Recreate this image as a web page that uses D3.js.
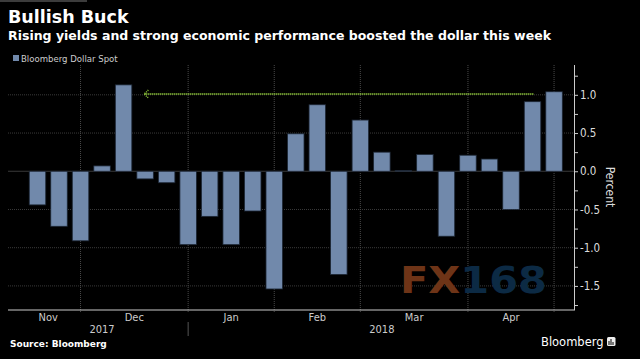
<!DOCTYPE html>
<meta charset="utf-8">
<html>
<head>
<script src="https://d3js.org/d3.v7.min.js"></script>
<style>
  body { margin: 0; background: #000; }
  text { font-family: "DejaVu Sans Condensed", "Liberation Sans Narrow", "DejaVu Sans", sans-serif; }
</style>
</head>
<body>
<div id="chart"></div>
<script>
// weekly Bloomberg Dollar Spot change, percent
const weeks = ["2017-11-17","2017-11-24","2017-12-01","2017-12-08","2017-12-15","2017-12-22","2017-12-29",
  "2018-01-05","2018-01-12","2018-01-19","2018-01-26","2018-02-02","2018-02-09","2018-02-16","2018-02-23",
  "2018-03-02","2018-03-09","2018-03-16","2018-03-23","2018-03-30","2018-04-06","2018-04-13","2018-04-20",
  "2018-04-27","2018-05-04"];
const change = [-0.44, -0.72, -0.91, 0.07, 1.13, -0.10, -0.15, -0.96, -0.59, -0.96, -0.52, -1.54, 0.49,
  0.87, -1.35, 0.67, 0.25, 0.01, 0.22, -0.85, 0.21, 0.16, -0.50, 0.91, 1.04];
const monthLabels = ["Nov", "Dec", "Jan", "Feb", "Mar", "Apr"];
const yearLabels = ["2017", "2018"];
const yTicks = [-1.5, -1.0, -0.5, 0.0, 0.5, 1.0];
const arrowLevel = 1.01;

const W = 640, H = 359;
const barColor = "#7189ab";

const svg = d3.select("#chart").append("svg")
    .attr("width", W).attr("height", H)
    .style("background", "#000");

// x is week index, y is percent
const x = d3.scaleLinear().domain([-1.37, 24.95]).range([8, 574.5]);
const y = d3.scaleLinear().domain([-1.815, 1.39]).range([310, 65]);
const bw = 16.5;

// month starts (first week of each month) and year start
const parse = d3.timeParse("%Y-%m-%d");
const dates = weeks.map(parse);
const monthStarts = [], yearStarts = [];
dates.forEach((d, i) => {
  if (i > 0 && d.getMonth() != dates[i - 1].getMonth()) monthStarts.push(i);
  if (i > 0 && d.getFullYear() != dates[i - 1].getFullYear()) yearStarts.push(i);
});

// top strip
svg.append("rect").attr("x", 0).attr("y", 0).attr("width", 87).attr("height", 2).attr("fill", "#3c3c3c");

// titles
svg.append("text").attr("x", 8).attr("y", 23)
    .style("font-family", "DejaVu Sans").style("font-weight", "bold").style("font-size", "17.5px")
    .attr("fill", "#fff").text("Bullish Buck");
svg.append("text").attr("x", 8).attr("y", 40)
    .style("font-family", "DejaVu Sans").style("font-weight", "bold").style("font-size", "12.5px")
    .attr("textLength", 543).attr("lengthAdjust", "spacingAndGlyphs")
    .attr("fill", "#fff").text("Rising yields and strong economic performance boosted the dollar this week");

// legend
svg.append("rect").attr("x", 13).attr("y", 55).attr("width", 6).attr("height", 6).attr("fill", barColor);
svg.append("text").attr("x", 21).attr("y", 61.5).style("font-size", "9.5px").attr("fill", "#ccc")
    .text("Bloomberg Dollar Spot");

// gridlines
svg.append("g").selectAll("line").data(yTicks).join("line")
    .attr("x1", 8).attr("x2", 574).attr("y1", d => y(d)).attr("y2", d => y(d))
    .attr("stroke", "#3a3a3a").attr("stroke-width", 1).attr("stroke-dasharray", d => d == 0 ? null : "1,1");
svg.append("g").selectAll("line").data(monthStarts).join("line")
    .attr("x1", d => x(d)).attr("x2", d => x(d)).attr("y1", 65).attr("y2", 313)
    .attr("stroke", "#4a4a4a").attr("stroke-width", 1).attr("stroke-dasharray", "1,1");

// watermark
const wm = svg.append("text").attr("x", 400).attr("y", 293)
    .style("font-family", "DejaVu Sans").style("font-weight", "bold").style("font-size", "37px")
    .attr("textLength", 147).attr("lengthAdjust", "spacingAndGlyphs");
wm.append("tspan").attr("fill", "#6e3417").text("FX");
wm.append("tspan").attr("fill", "#0c2a44").text("168");

// bars
svg.append("g").selectAll("rect").data(change).join("rect")
    .attr("x", (d, i) => x(i) - bw / 2)
    .attr("y", d => y(Math.max(0, d)))
    .attr("width", bw)
    .attr("height", d => Math.max(0.8, Math.abs(y(d) - y(0))))
    .attr("fill", barColor)
    .attr("stroke", "#1c2634").attr("stroke-width", 0.8);

// annotation arrow from the December peak to the latest week
const peak = change.indexOf(d3.max(change));
const last = change.length - 1;
const ay = y(arrowLevel);
const ax1 = x(peak) + bw / 2 + 12.5, ax2 = x(last) - bw / 2 - 12.5;
svg.append("line").attr("x1", ax1).attr("x2", ax2).attr("y1", ay).attr("y2", ay)
    .attr("stroke", "#8fc73a").attr("stroke-width", 2).attr("stroke-dasharray", "1,1");
svg.append("path").attr("d", `M${ax1 + 4},${ay - 4}L${ax1},${ay}L${ax1 + 4},${ay + 4}`)
    .attr("fill", "none").attr("stroke", "#8fc73a").attr("stroke-width", 1.5).attr("stroke-dasharray", "1,1");

// y axis on right
const yAxis = svg.append("g").attr("transform", "translate(574,0)")
    .call(d3.axisRight(y).tickValues(d3.range(-1.75, 1.3, 0.25)).tickSize(4)
      .tickFormat(d => yTicks.some(t => Math.abs(t - d) < 1e-6) ? d3.format(".1f")(d).replace("−", "-") : ""));
yAxis.select(".domain").remove();
yAxis.selectAll(".tick line").attr("stroke", "#ccc");
yAxis.selectAll(".tick text").attr("fill", "#ddd").attr("x", 6).style("font-size", "11.5px");
svg.append("line").attr("x1", 574.5).attr("x2", 574.5).attr("y1", 65).attr("y2", 310).attr("stroke", "#ccc");
svg.append("text").attr("transform", "translate(606,187) rotate(90)")
    .attr("text-anchor", "middle").style("font-size", "12px").attr("fill", "#ddd").text("Percent");

// x axis
svg.append("line").attr("x1", 8).attr("x2", 575).attr("y1", 310).attr("y2", 310).attr("stroke", "#ccc");
const bounds = [-1].concat(monthStarts);
svg.append("g").selectAll("text").data(monthLabels).join("text")
    .attr("x", (d, i) => (x(bounds[i]) + x(bounds[i + 1])) / 2)
    .attr("y", 320.5).attr("text-anchor", "middle").style("font-size", "11px").attr("fill", "#ccc")
    .text(d => d);
const ybounds = [-1].concat(yearStarts, [25]);
svg.append("g").selectAll("text").data(yearLabels).join("text")
    .attr("x", (d, i) => (x(ybounds[i]) + x(ybounds[i + 1])) / 2)
    .attr("y", 332.5).attr("text-anchor", "middle").style("font-size", "11px").attr("fill", "#ccc")
    .text(d => d);
svg.append("g").selectAll("line").data(yearStarts).join("line")
    .attr("x1", d => x(d)).attr("x2", d => x(d)).attr("y1", 322).attr("y2", 336)
    .attr("stroke", "#555");

// footer
svg.append("text").attr("x", 10).attr("y", 346.5)
    .style("font-family", "DejaVu Sans").style("font-weight", "bold").style("font-size", "9px")
    .attr("fill", "#fff").text("Source: Bloomberg");
svg.append("text").attr("x", 541).attr("y", 346)
    .style("font-family", "DejaVu Sans").style("font-size", "11.5px")
    .attr("fill", "#fff").text("Bloomberg");
const logo = svg.append("g").attr("transform", "translate(607,337)");
logo.append("rect").attr("width", 8.5).attr("height", 9).attr("rx", 1.5).attr("fill", "#eee");
logo.selectAll(".b").data([4, 6, 3]).join("rect").attr("class", "b")
    .attr("x", (d, i) => 1.5 + i * 2).attr("y", d => 8 - d).attr("width", 1).attr("height", d => d)
    .attr("fill", "#000");
</script>
</body>
</html>
